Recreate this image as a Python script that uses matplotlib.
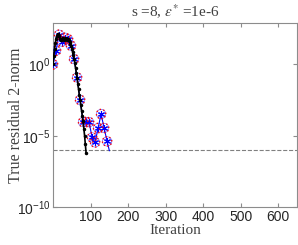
import numpy as np
import matplotlib
matplotlib.use("Agg")
import matplotlib.pyplot as plt
from matplotlib.ticker import FixedLocator, FixedFormatter, NullLocator

plt.rcParams['mathtext.fontset'] = 'custom'
plt.rcParams['mathtext.rm'] = 'Liberation Sans'
plt.rcParams['mathtext.it'] = 'Liberation Sans:italic'
plt.rcParams['mathtext.bf'] = 'Liberation Sans:bold'

# outer iterations (every s=8 steps), log10 of residual
outer_it = [0, 8, 16, 24, 32, 40, 48, 56, 64, 72, 80, 88, 96, 104, 112, 120, 128, 136, 144]
outer_log = [0.0, 0.96, 2.08, 1.59, 1.87, 1.76, 1.31, 0.37, -0.92, -2.49, -4.04, -4.04, -4.05,
             -5.12, -5.47, -4.46, -3.48, -4.46, -5.40]
# tail of the blue line after the last marker
tail_it = [150]
tail_log = [-6.05]

# per-iteration residual (black), log10
inner_it = list(range(0, 90, 2))
inner_log = [0.0, 0.6, 1.1, 1.5, 1.8, 2.0, 2.1, 2.15, 2.0, 1.8, 1.7, 1.75, 1.8, 1.85, 1.8,
             1.72, 1.8, 1.85, 1.78, 1.7, 1.75, 1.72, 1.6, 1.45, 1.3, 1.1, 0.9, 0.65, 0.4,
             0.1, -0.25, -0.6, -0.95, -1.35, -1.75, -2.15, -2.5, -2.85, -3.25, -3.6, -4.0,
             -4.5, -5.0, -5.6, -6.2]

tol = 1e-6

xticks = [100, 200, 300, 400, 500, 600]
yticks = [1e-10, 1e-5, 1e0]
ytick_labels = [r'$\mathrm{10^{-10}}$', r'$\mathrm{10^{-5}}$', r'$\mathrm{10^{0}}$']

fig = plt.figure(figsize=(2.98, 2.45), dpi=100)
ax = fig.add_axes([0.178, 0.155, 0.819, 0.751])

oy = 10.0 ** np.array(outer_log)
ax.plot(outer_it + tail_it, 10.0 ** np.array(outer_log + tail_log), '-', color='blue', lw=0.8, zorder=3)
ax.plot(outer_it, oy, linestyle='none', marker=(6, 2, 0), color='blue', ms=5, mew=0.8, zorder=4)
ax.scatter(outer_it, oy, s=45, facecolors='none', edgecolors='blue', linewidths=0.5,
           zorder=4, alpha=0.6)
ax.scatter(outer_it, oy, s=45, facecolors='none', edgecolors='red', linewidths=1.0,
           linestyle=':', zorder=5)

ax.plot(inner_it, 10.0 ** np.array(inner_log), '.-', color='black', ms=3, lw=1.2, zorder=6)

ax.axhline(tol, color='gray', linestyle='--', lw=0.8, zorder=1)

ax.set_yscale('log')
ax.set_xlim(0, 650)
ax.set_ylim(1e-10, 10 ** 2.9)
ax.xaxis.set_major_locator(FixedLocator(xticks))
ax.yaxis.set_major_locator(FixedLocator(yticks))
ax.yaxis.set_major_formatter(FixedFormatter(ytick_labels))
ax.yaxis.set_minor_locator(NullLocator())

for sp in ax.spines.values():
    sp.set_color('#8c8c8c')
    sp.set_linewidth(0.8)
ax.tick_params(direction='in', top=True, right=True, colors='#8c8c8c', labelcolor='#262626',
               labelsize=10, length=3, pad=2)
for lab in ax.get_xticklabels() + ax.get_yticklabels():
    lab.set_family('Liberation Sans')

serif = {'family': 'Liberation Serif', 'size': 11, 'color': '#404040'}
t = ax.set_title(r's =8, $\varepsilon^{*}$ =1e-6', fontdict=serif, pad=4)
t.set_math_fontfamily('stix')
ax.set_xlabel('Iteration', fontdict=serif, labelpad=0)
ax.set_ylabel('True residual 2-norm', family='Liberation Serif', size=11.5, color='#404040')
ax.yaxis.set_label_coords(-0.12, 0.5)

fig.savefig('out.png', dpi=100)
